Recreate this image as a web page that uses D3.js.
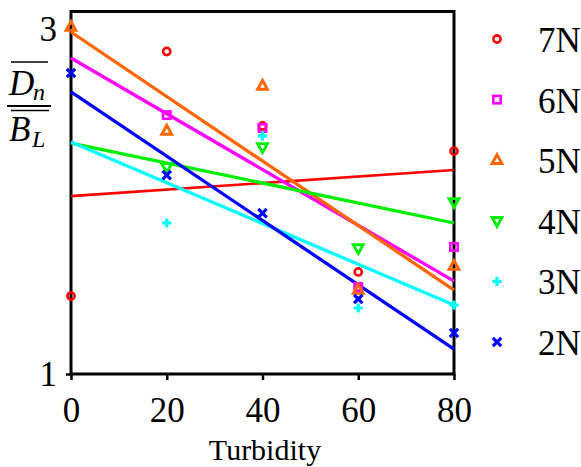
<!DOCTYPE html>
<html><head><meta charset="utf-8">
<script src="https://cdn.jsdelivr.net/npm/d3@7"></script>
<style>body{margin:0;background:#fff}svg{display:block}svg text{font-family:"Liberation Serif","Times New Roman",serif !important;fill:#000}</style>
</head><body>
<svg id="chart" width="581" height="467"></svg>
<script>
const turbidity = [0, 20, 40, 60, 80];
const seriesNames = ["7N", "6N", "5N", "4N", "3N", "2N"];
const seriesColors = ["#ff0000", "#ff00ff", "#ff6600", "#00ee00", "#00ffff", "#0000ff"];
const seriesShapes = ["circle", "square", "triangleUp", "triangleDown", "plus", "cross"];
const values7N = [1.452, 2.871, 2.439, 1.592, 2.293];
const values6N = [null, 2.502, 2.427, 1.505, 1.737];
const values5N = [3.013, 2.410, 2.671, 1.487, 1.626];
const values4N = [null, 2.201, 2.317, 1.731, 1.998];
const values3N = [null, 1.876, 2.381, 1.383, 1.400];
const values2N = [2.746, 2.154, 1.933, 1.435, 1.238];
// trend lines (value at turbidity 0 and 80)
const fitStart = [2.032, 2.833, 2.984, 2.340, 2.346, 2.636];
const fitEnd   = [2.183, 1.539, 1.487, 1.876, 1.400, 1.145];
const xTicks = [0, 20, 40, 60, 80];
const yTicks = [1, 3];

const allValues = [values7N, values6N, values5N, values4N, values3N, values2N];
const svg = d3.select("#chart");
const x = d3.scaleLinear().domain([0, 80]).range([71, 454]);
const y = d3.scaleLinear().domain([1, 3.1]).range([374, 12]);
const FONT = '"Liberation Serif", "Times New Roman", serif';

// axes
const xAxis = svg.append("g").attr("transform", "translate(0,374)")
  .call(d3.axisBottom(x).tickValues(xTicks).tickFormat(d3.format("d")).tickSize(6).tickPadding(17));
xAxis.attr("font-family", FONT).attr("font-size", 35);
xAxis.select(".domain").remove();
xAxis.selectAll("line").attr("stroke", "#000").attr("stroke-width", 2.5);
xAxis.selectAll("text").style("font-family", FONT).style("font-size", "35px");

const yAxis = svg.append("g").attr("transform", "translate(71,0)")
  .call(d3.axisLeft(y).tickValues(yTicks).tickFormat(d3.format("d")).tickSize(5).tickPadding(9));
yAxis.attr("font-family", FONT).attr("font-size", 35);
yAxis.select(".domain").remove();
yAxis.selectAll("line").attr("stroke", "#000").attr("stroke-width", 2.5);
yAxis.selectAll("text").style("font-family", FONT).style("font-size", "35px");

// frame
svg.append("rect").attr("x", 71).attr("y", 11.5).attr("width", 383).attr("height", 362.5)
  .attr("fill", "none").attr("stroke", "#000").attr("stroke-width", 3);

// trend lines
const line = d3.line().x(d => x(d[0])).y(d => y(d[1]));
seriesNames.forEach((n, i) => {
  svg.append("path").datum([[0, fitStart[i]], [80, fitEnd[i]]])
    .attr("d", line).attr("fill", "none").attr("stroke", seriesColors[i])
    .attr("stroke-width", i === 0 ? 2.6 : 3.3);
});

function marker(g, shape, color) {
  if (shape === "circle") {
    g.append("circle").attr("r", 3.6).attr("fill", "none").attr("stroke", color).attr("stroke-width", 2.6);
  } else if (shape === "square") {
    g.append("rect").attr("x", -3.7).attr("y", -3.7).attr("width", 7.4).attr("height", 7.4)
      .attr("fill", "none").attr("stroke", color).attr("stroke-width", 2.6);
  } else if (shape === "triangleUp") {
    g.append("path").attr("d", "M0,-5.6L4.9,3.3L-4.9,3.3Z").attr("fill", "none").attr("stroke", color).attr("stroke-width", 2.9);
  } else if (shape === "triangleDown") {
    g.append("path").attr("d", "M0,5.6L4.9,-3.3L-4.9,-3.3Z").attr("fill", "none").attr("stroke", color).attr("stroke-width", 2.9);
  } else if (shape === "plus") {
    g.append("path").attr("d", "M-4.6,0H4.6M0,-4.6V4.6").attr("stroke", color).attr("stroke-width", 3.2);
  } else if (shape === "cross") {
    g.append("path").attr("d", "M-4.2,-4.2L4.2,4.2M-4.2,4.2L4.2,-4.2").attr("stroke", color).attr("stroke-width", 3.2);
  }
}

// points
seriesNames.forEach((n, i) => {
  allValues[i].forEach((v, j) => {
    if (v == null) return;
    const g = svg.append("g").attr("transform", `translate(${x(turbidity[j])},${y(v)})`);
    marker(g, seriesShapes[i], seriesColors[i]);
  });
});

// legend
seriesNames.forEach((n, i) => {
  const cy = 39 + i * 60.6;
  const g = svg.append("g").attr("transform", `translate(497,${cy})`);
  marker(g, seriesShapes[i], seriesColors[i]);
  svg.append("text").attr("x", 538).attr("y", cy + 13).style("font-size", "35px").text(n);
});

// x axis title
svg.append("text").attr("x", 265).attr("y", 460).attr("text-anchor", "middle")
  .style("font-size", "30px").text("Turbidity");

// y axis title: fraction of overlined D_n over overlined B_L
const yt = svg.append("g");
yt.append("line").attr("x1", 11).attr("x2", 48).attr("y1", 62).attr("y2", 62).attr("stroke", "#000").attr("stroke-width", 1.5);
yt.append("text").attr("x", 9).attr("y", 95).style("font-size", "35px").style("font-style", "italic").text("D");
yt.append("text").attr("x", 33).attr("y", 100).style("font-size", "24px").style("font-style", "italic").text("n");
yt.append("line").attr("x1", 7).attr("x2", 51).attr("y1", 106).attr("y2", 106).attr("stroke", "#000").attr("stroke-width", 2);
yt.append("line").attr("x1", 11).attr("x2", 49).attr("y1", 110.5).attr("y2", 110.5).attr("stroke", "#000").attr("stroke-width", 1.5);
yt.append("text").attr("x", 9).attr("y", 141).style("font-size", "35px").style("font-style", "italic").text("B");
yt.append("text").attr("x", 32).attr("y", 147).style("font-size", "24px").style("font-style", "italic").text("L");
</script>
</body></html>
